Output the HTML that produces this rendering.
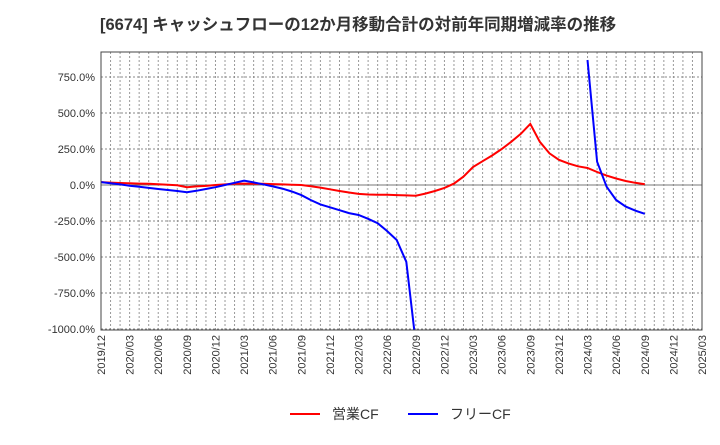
<!DOCTYPE html>
<html><head><meta charset="utf-8"><style>
body{margin:0;background:#fff;font-family:"Liberation Sans","Noto Sans CJK JP",sans-serif}
</style></head><body>
<svg id="c" width="720" height="440" xmlns="http://www.w3.org/2000/svg"></svg>
<script>
const months=[];for(let y=2019,m=12;months.length<58;){months.push(y+'/'+String(m).padStart(2,'0'));m++;if(m>12){m=1;y++;}}
const opCF=[20,17,14,12,10,8,5,2,-2,-15,-10,-6,0,4,8,10,9,8,6,4,2,0,-8,-18,-30,-42,-52,-62,-66,-68,-68,-70,-72,-74,-60,-42,-20,10,58,125,165,205,250,300,355,424,300,220,175,150,130,118,90,65,45,28,15,5];
const freeCF=[20,12,4,-5,-12,-20,-28,-35,-42,-50,-40,-28,-15,0,15,30,18,5,-10,-25,-45,-70,-105,-135,-155,-175,-195,-208,-235,-265,-320,-382,-533,-1100,null,null,null,null,null,null,null,null,null,null,null,null,null,null,null,null,null,868,162,-12,-104,-150,-178,-200];
const yTicks=[750,500,250,0,-250,-500,-750,-1000];
const xTickLabels=['2019/12','2020/03','2020/06','2020/09','2020/12','2021/03','2021/06','2021/09','2021/12','2022/03','2022/06','2022/09','2022/12','2023/03','2023/06','2023/09','2023/12','2024/03','2024/06','2024/09','2024/12','2025/03'];
const L=101,R=702,T=52,B=330;
const xs=i=>L+i*(R-L)/63;
const ys=v=>185-v*0.144;
const s=document.getElementById('c');const NS='http://www.w3.org/2000/svg';
function el(t,a,p){const e=document.createElementNS(NS,t);for(const k in a)e.setAttribute(k,a[k]);(p||s).appendChild(e);return e;}
const title=el('text',{x:100,y:30,'font-size':16.5,'font-weight':'bold',fill:'#333'});title.textContent='[6674]  キャッシュフローの12か月移動合計の対前年同期増減率の推移';


for(let i=1;i<63;i++){const g=el('line',{x1:xs(i),x2:xs(i),y1:T,y2:B,stroke:'#999','stroke-dasharray':'2,2','stroke-width':1});

}
yTicks.forEach(v=>{const y=ys(v);
const g=el('line',{x1:L,x2:R,y1:y,y2:y,stroke:v===0?'#777':'#888','stroke-dasharray':v===0?'':'2,2','stroke-width':1});


const t=el('text',{x:L-6,y:y+4,'text-anchor':'end','font-size':11,fill:'#333'});t.textContent=v.toFixed(1)+'%';

});
xTickLabels.forEach((lb,k)=>{const x=xs(k*3);
const t=el('text',{transform:`translate(${x+4},335) rotate(-90)`,'text-anchor':'end','font-size':11,fill:'#333'});t.textContent=lb;

});
const cp=el('clipPath',{id:'cp'});el('rect',{x:L,y:T,width:R-L,height:B-T},cp);
function line(d,col,name){let p='',pen=false;d.forEach((v,i)=>{if(v==null){pen=false;return;}p+=(pen?'L':'M')+xs(i).toFixed(1)+','+ys(v).toFixed(1);pen=true;});
const e=el('path',{d:p,fill:'none',stroke:col,'stroke-width':2,'clip-path':'url(#cp)'});

}
line(opCF,'#f00','operating-cf-line');line(freeCF,'#00f','free-cf-line');
const f=el('rect',{x:L,y:T,width:R-L,height:B-T,fill:'none',stroke:'#444','stroke-width':1});


[['営業CF','#f00',290],['フリーCF','#00f',408]].forEach(([n,c,x])=>{
const g=el('g',{});

el('line',{x1:x,x2:x+30,y1:414,y2:414,stroke:c,'stroke-width':2},g);
const t=el('text',{x:x+42,y:419,'font-size':14,fill:'#333'},g);t.textContent=n;});
</script>
</body></html>
